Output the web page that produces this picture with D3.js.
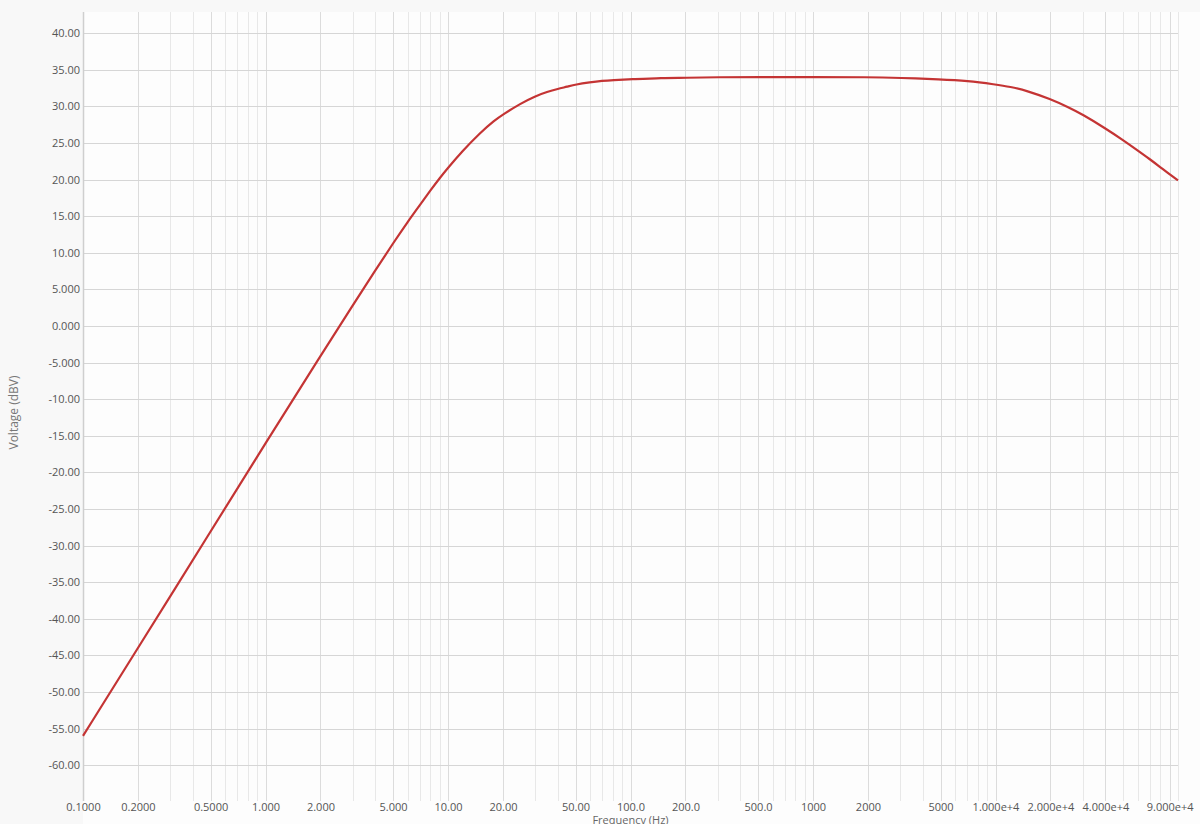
<!DOCTYPE html>
<html>
<head>
<meta charset="utf-8">
<script src="https://cdn.jsdelivr.net/npm/d3@7"></script>
<style>
  html, body { margin: 0; padding: 0; background: #f8f8f8; }
  svg { display: block; }
  text { font-family: "Open Sans", "Noto Sans", sans-serif; }
</style>
</head>
<body>
<svg id="chart" width="1200" height="824"></svg>
<script>
// ---- data ----
const frequencies = [0.1, 0.2, 0.5, 1, 2, 3, 4, 5, 6, 7, 8, 9, 10, 12, 15, 18, 20, 25, 30, 35,
  40, 45, 50, 60, 70, 80, 100, 150, 200, 300, 500, 1000, 2000, 3000, 5000, 7000, 10000, 12000,
  15000, 20000, 25000, 30000, 40000, 50000, 60000, 70000, 80000, 90000, 100000];
const voltageDbv = [-56.0, -44.0, -28.1, -16.0, -4.1, 2.8, 7.6, 11.3, 14.2, 16.5, 18.5, 20.2,
  21.6, 23.9, 26.4, 28.1, 28.9, 30.4, 31.4, 32.0, 32.4, 32.7, 33.0, 33.3, 33.5, 33.6, 33.7, 33.9,
  33.9, 34.0, 34.0, 34.0, 34.0, 33.9, 33.7, 33.5, 33.0, 32.7, 32.1, 31.0, 29.9, 28.9, 27.0, 25.4,
  24.0, 22.8, 21.7, 20.7, 19.9];
const xTickValues = [0.1, 0.2, 0.5, 1, 2, 5, 10, 20, 50, 100, 200, 500, 1000, 2000, 5000,
  10000, 20000, 40000, 90000];
const xTickLabels = ["0.1000", "0.2000", "0.5000", "1.000", "2.000", "5.000", "10.00", "20.00",
  "50.00", "100.0", "200.0", "500.0", "1000", "2000", "5000", "1.000e+4", "2.000e+4",
  "4.000e+4", "9.000e+4"];
const yTickValues = [40, 35, 30, 25, 20, 15, 10, 5, 0, -5, -10, -15, -20, -25, -30, -35, -40,
  -45, -50, -55, -60];
const yTickLabels = ["40.00", "35.00", "30.00", "25.00", "20.00", "15.00", "10.00", "5.000",
  "0.000", "-5.000", "-10.00", "-15.00", "-20.00", "-25.00", "-30.00", "-35.00", "-40.00",
  "-45.00", "-50.00", "-55.00", "-60.00"];
const xTitle = "Frequency (Hz)";
const yTitle = "Voltage (dBV)";

// ---- layout ----
const svg = d3.select("#chart");
const plotLeft = 83, plotRight = 1178, plotTop = 12, plotBottom = 801;

const x = d3.scaleLog().domain([0.1, 100000]).range([plotLeft, plotRight]);
const y = d3.scaleLinear().domain([-64.9, 42.9]).range([plotBottom, plotTop]);

// backgrounds
svg.append("rect").attr("x", 0).attr("y", 0).attr("width", 1200).attr("height", 824).attr("fill", "#f8f8f8");
svg.append("rect").attr("x", plotLeft).attr("y", plotTop).attr("width", 1200 - plotLeft)
  .attr("height", 824 - plotTop).attr("fill", "#fdfdfd");

// vertical grid: every 1..9 x decade
const minorVals = [];
for (let e = -1; e <= 5; e++) {
  for (let m = 1; m <= 9; m++) {
    const v = m * Math.pow(10, e);
    if (v >= 0.1 && v <= 100000 * 1.0001) minorVals.push(v);
  }
}
const gridX = svg.append("g");
gridX.selectAll("line").data(minorVals).enter().append("line")
  .attr("x1", d => Math.round(x(d)) + 0.5).attr("x2", d => Math.round(x(d)) + 0.5)
  .attr("y1", plotTop).attr("y2", plotBottom)
  .attr("stroke", d => xTickValues.some(t => Math.abs(t - d) / d < 1e-6) ? "#dcdcdc" : "#e8e8e8")
  .attr("stroke-width", 1);

// horizontal grid
const gridY = svg.append("g");
gridY.selectAll("line").data(yTickValues).enter().append("line")
  .attr("x1", plotLeft).attr("x2", plotRight)
  .attr("y1", d => Math.round(y(d)) + 0.5).attr("y2", d => Math.round(y(d)) + 0.5)
  .attr("stroke", "#d6d6d6").attr("stroke-width", 1);

// left axis line
svg.append("line").attr("x1", plotLeft + 0.5).attr("x2", plotLeft + 0.5)
  .attr("y1", plotTop).attr("y2", plotBottom)
  .attr("stroke", "#cfcfcf").attr("stroke-width", 1.5);

// axes
const yAxis = d3.axisLeft(y).tickValues(yTickValues).tickSize(0).tickPadding(3)
  .tickFormat((d, i) => yTickLabels[i]);
const gy = svg.append("g").attr("transform", `translate(${plotLeft},0)`).call(yAxis);
gy.select(".domain").remove();
gy.selectAll("text").attr("fill", "#555").style("font-size", "11px")
  .style("font-family", "'Open Sans', 'Noto Sans', sans-serif");

const xAxis = d3.axisBottom(x).tickValues(xTickValues).tickSize(0).tickPadding(0)
  .tickFormat((d, i) => xTickLabels[i]);
const gx = svg.append("g").attr("transform", `translate(0,${plotBottom})`).call(xAxis);
gx.select(".domain").remove();
gx.selectAll("text").attr("fill", "#555").style("font-size", "11px").attr("dy", "0.9em")
  .style("font-family", "'Open Sans', 'Noto Sans', sans-serif");

// titles
svg.append("text").attr("x", (plotLeft + plotRight) / 2).attr("y", 824).attr("text-anchor", "middle")
  .attr("fill", "#666").style("font-size", "11px").text(xTitle);
svg.append("text").attr("transform", `translate(18,${(plotTop + plotBottom) / 2 + 6}) rotate(-90)`)
  .attr("text-anchor", "middle").attr("fill", "#777").style("font-size", "12px").text(yTitle);

// curve
const pts = frequencies.map((f, i) => [f, voltageDbv[i]]);
const line = d3.line().x(d => x(d[0])).y(d => y(d[1])).curve(d3.curveBasis);
svg.append("path").datum(pts).attr("d", line)
  .attr("fill", "none").attr("stroke", "#c43434").attr("stroke-width", 2.2)
  .attr("stroke-linejoin", "round").attr("stroke-linecap", "butt");
</script>
</body>
</html>
